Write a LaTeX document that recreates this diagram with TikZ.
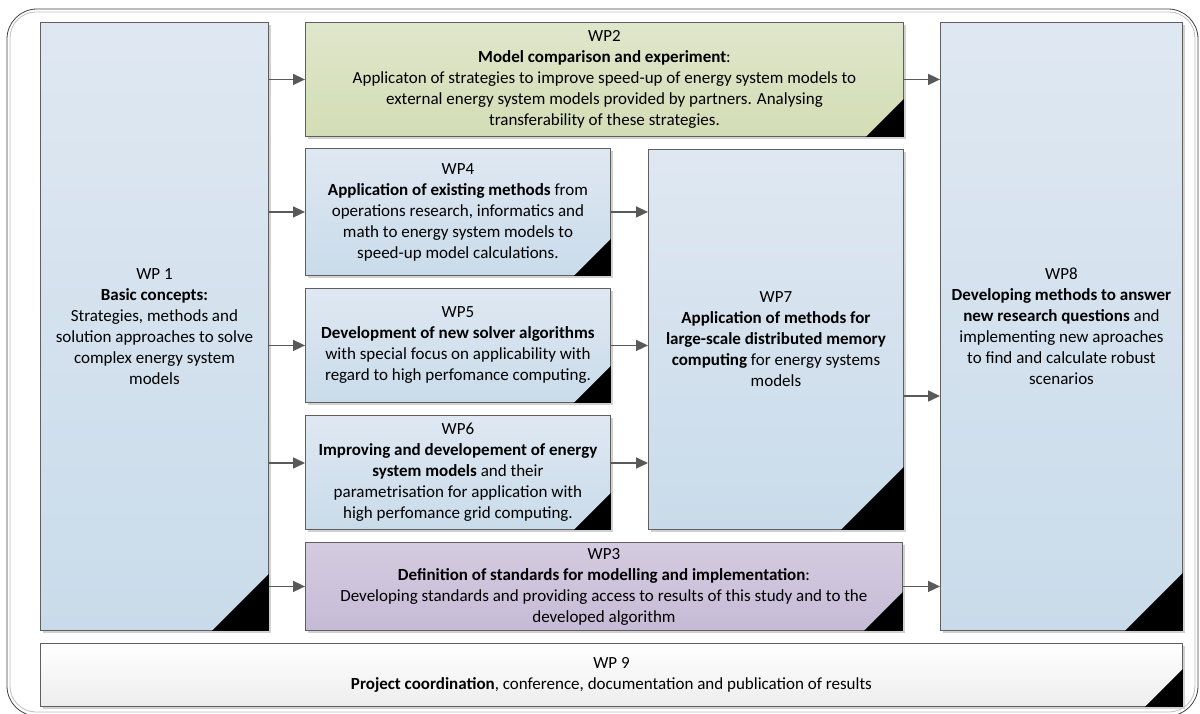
\documentclass[tikz,border=0pt]{standalone}
\usepackage{fontspec}
\setmainfont{Carlito}
\usetikzlibrary{arrows.meta,shadows,calc}
\definecolor{bordc}{HTML}{5F5F5F}
\definecolor{arrc}{HTML}{595959}
\definecolor{blueT}{HTML}{DFE8F2}
\definecolor{blueB}{HTML}{C9DBEA}
\definecolor{greenT}{HTML}{DFE6CB}
\definecolor{greenB}{HTML}{D3DDB5}
\definecolor{purpT}{HTML}{D4CBE0}
\definecolor{purpB}{HTML}{C6BBD6}
\definecolor{greyB}{HTML}{EDEDED}
\tikzset{
  wpbox/.style={draw=bordc, line width=0.9pt, anchor=north west, align=center,
    inner sep=2pt, font=\fontsize{17}{21}\selectfont,
    drop shadow={shadow xshift=2.5pt, shadow yshift=-2.5pt, fill=black!18, opacity=1}},
  bluebox/.style={wpbox, top color=blueT, bottom color=blueB},
  greenbox/.style={wpbox, top color=greenT, bottom color=greenB},
  purpbox/.style={wpbox, top color=purpT, bottom color=purpB},
  whitebox/.style={wpbox, top color=white, bottom color=greyB},
  arr/.style={draw=arrc, line width=1.6pt, -{Triangle[length=12pt,width=11pt]}},
}
\newcommand{\corner}[2]{\fill[black] (#1.south east) -- ++(-#2,0) -- ++(#2,-#2) -- cycle;}
\begin{document}
\begin{tikzpicture}[x=1pt,y=-1pt]
\useasboundingbox (0,0) rectangle (1200,714);
% outer frame
\draw[black!25, line width=0.8pt, rounded corners=26pt] (10,12) rectangle (1195,712);
\draw[black!75, line width=0.8pt, rounded corners=30pt] (7,9) rectangle (1198,716);

\node[bluebox, minimum width=228pt, minimum height=608pt] (wp1) at (40,22)
  {WP 1\\ \textbf{Basic concepts:}\\ Strategies, methods and\\ solution approaches to solve\\ complex energy system\\ models};
\node[greenbox, minimum width=598pt, minimum height=114pt] (wp2) at (305,22)
  {WP2\\ \textbf{Model comparison and experiment}:\\ Applicaton of strategies to improve speed-up of energy system models to\\ external energy system models provided by partners. Analysing\\ transferability of these strategies.};
\node[bluebox, minimum width=305pt, minimum height=127pt] (wp4) at (305,148)
  {WP4\\ \textbf{Application of existing methods} from\\ operations research, informatics and\\ math to energy system models to\\ speed-up model calculations.};
\node[bluebox, minimum width=305pt, minimum height=114pt] (wp5) at (305,288)
  {WP5\\ \textbf{Development of new solver algorithms}\\ with special focus on applicability with\\ regard to high perfomance computing.};
\node[bluebox, minimum width=305pt, minimum height=114pt] (wp6) at (305,415)
  {WP6\\ \textbf{Improving and developement of energy}\\ \textbf{system models} and their\\ parametrisation for application with\\ high perfomance grid computing.};
\node[bluebox, minimum width=255pt, minimum height=380pt] (wp7) at (648,149)
  {WP7\\ \textbf{Application of methods for}\\ \textbf{large-scale distributed memory}\\ \textbf{computing} for energy systems\\ models};
\node[purpbox, minimum width=597pt, minimum height=88pt] (wp3) at (305,542)
  {WP3\\ \textbf{Definition of standards for modelling and implementation}:\\ Developing standards and providing access to results of this study and to the\\ developed algorithm};
\node[bluebox, minimum width=242pt, minimum height=608pt] (wp8) at (940,22)
  {WP8\\ \textbf{Developing methods to answer}\\ \textbf{new research questions} and\\ implementing new aproaches\\ to find and calculate robust\\ scenarios};
\node[whitebox, minimum width=1142pt, minimum height=63pt] (wp9) at (40,643)
  {WP 9\\ \textbf{Project coordination}, conference, documentation and publication of results};

\corner{wp1}{57}
\corner{wp2}{38}
\corner{wp4}{37}
\corner{wp5}{37}
\corner{wp6}{37}
\corner{wp7}{63}
\corner{wp3}{39}
\corner{wp8}{58}
\corner{wp9}{38}

% arrows
\draw[arr] (wp1.east |- wp2.west) -- (wp2.west);
\draw[arr] (wp1.east |- wp4.west) -- (wp4.west);
\draw[arr] (wp1.east |- wp5.west) -- (wp5.west);
\draw[arr] (wp1.east |- 0,463) -- (wp6.west |- 0,463);
\draw[arr] (wp1.east |- wp3.west) -- (wp3.west);
\draw[arr] (wp4.east) -- (wp7.west |- wp4.east);
\draw[arr] (wp5.east) -- (wp7.west |- wp5.east);
\draw[arr] (wp6.east |- 0,463) -- (wp7.west |- 0,463);
\draw[arr] (wp2.east) -- (wp8.west |- wp2.east);
\draw[arr] (wp7.east |- 0,396) -- (wp8.west |- 0,396);
\draw[arr] (wp3.east) -- (wp8.west |- wp3.east);
\end{tikzpicture}
\end{document}
